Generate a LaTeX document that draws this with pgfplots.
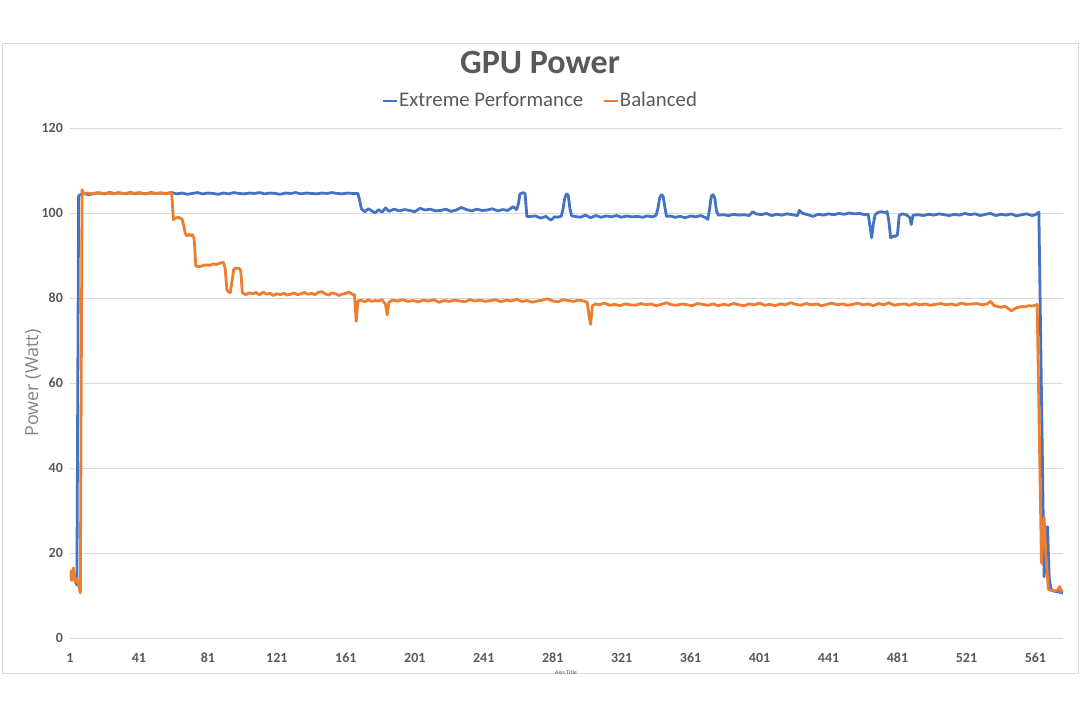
\documentclass[border=0pt]{standalone}
\usepackage{pgfplots}
\pgfplotsset{compat=1.18}
\usepackage{fontspec}
\setmainfont{Carlito}
\newfontfamily\labelfont{Open Sans}
\definecolor{xlblue}{HTML}{4472C4}
\definecolor{xlorange}{HTML}{ED7D31}
\definecolor{xltext}{HTML}{595959}
\definecolor{xlgrid}{HTML}{D9D9D9}
\begin{document}
\begin{tikzpicture}
  \path (0,0) rectangle (540pt,360pt);
  \draw[xlgrid, line width=0.5pt] (1pt,23.5pt) rectangle (539pt,338.5pt);
  \begin{axis}[
      at={(35pt,41pt)}, anchor=south west,
      scale only axis,
      width=496.5pt, height=255pt,
      xmin=1, xmax=577,
      ymin=0, ymax=120,
      xtick={1,41,...,561},
      ytick={0,20,...,120},
      major tick length=0pt,
      axis line style={draw=none},
      ymajorgrids=true,
      grid style={xlgrid, line width=0.5pt},
      /pgf/number format/assume math mode=true,
      ticklabel style={font=\fontsize{7}{8}\selectfont\bfseries, text=xltext},
      xticklabel style={yshift=-4pt},
      yticklabel style={xshift=0pt},
      legend style={at={(rel axis cs:0.473,1.053)}, anchor=center,
        draw=none, fill=none, legend columns=2,
        font=\fontsize{10.4}{12}\selectfont, text=xltext,
        nodes={inner xsep=0.5pt},
        /tikz/every even column/.append style={column sep=9pt}},
      legend image code/.code={\draw[#1, line width=1.4pt] (0pt,0pt) -- (7pt,0pt);},
      every axis plot/.append style={line width=1.4pt, line join=round},
    ]
    \addplot[xlblue, mark=none] coordinates {
      (1,15.5)(2,14)(3,15)(4,13.5)(5,12.5)(6,104)(7,104.3)(9,104.6)(12,104.3)(15,104.6)
      (18,104.7)(21,104.5)(24,104.8)(27,104.6)(30,104.7)(33,104.5)(36,104.8)(39,104.6)
      (42,104.7)(45,104.5)(48,104.8)(51,104.6)(54,104.7)(57,104.6)(60,104.8)(63,104.5)
      (66,104.7)(69,104.4)(72,104.6)(75,104.8)(78,104.5)(81,104.7)(84,104.6)(87,104.4)
      (90,104.7)(93,104.5)(96,104.8)(99,104.6)(102,104.5)(105,104.7)(108,104.6)(111,104.8)
      (114,104.5)(117,104.7)(120,104.6)(123,104.4)(126,104.7)(129,104.6)(132,104.8)
      (135,104.5)(138,104.7)(141,104.6)(144,104.5)(147,104.7)(150,104.6)(153,104.8)
      (156,104.6)(159,104.5)(162,104.7)(165,104.6)(168,104.6)(169,103)(170,101)(172,100.3)
      (174,101)(176,100.5)(178,100)(180,100.8)(182,100.2)(184,101.2)(186,100.4)(189,100.9)
      (192,100.5)(195,100.8)(198,100.6)(201,100.3)(204,101.1)(207,100.7)(210,100.9)
      (213,100.5)(216,100.6)(219,100.9)(222,100.4)(225,100.7)(228,101.3)(231,100.8)
      (234,100.5)(237,100.9)(240,100.6)(243,100.7)(246,101)(249,100.5)(252,100.8)
      (255,100.6)(258,101.5)(260,100.8)(261,102)(262,104.5)(264,104.8)(265,104.5)
      (266,99.2)(268,99.2)(271,99.3)(274,98.8)(277,99.2)(280,98.3)(282,99.1)(284,99)
      (286,99.3)(287,101)(288,103.5)(289,104.5)(290,104.2)(291,101)(292,99.3)(294,99.2)
      (297,99)(300,99.5)(303,98.9)(306,99.4)(309,99)(312,99.3)(315,99.1)(318,99.4)(321,99)
      (324,99.3)(327,99.1)(330,99.2)(333,99)(336,99.3)(339,99.1)(341,99.5)(342,101)
      (343,103.5)(344,104.3)(345,104)(346,101.5)(347,99.2)(349,99.3)(352,99)(355,99.2)
      (358,98.9)(361,99.3)(364,99.1)(367,99.4)(370,98.8)(371,98.5)(372,101)(373,104)
      (374,104.3)(375,103.5)(376,100.5)(377,99.5)(380,99.6)(383,99.4)(386,99.7)(389,99.5)
      (392,99.6)(395,99.4)(397,100.3)(399,99.8)(402,99.6)(405,99.9)(408,99.4)(411,99.7)
      (414,99.5)(417,99.8)(420,99.6)(423,99.4)(424,100.6)(426,99.9)(429,99.6)(432,99.2)
      (435,99.7)(438,99.5)(441,99.8)(444,99.6)(447,99.9)(450,99.7)(453,100)(456,99.8)
      (459,99.9)(462,99.6)(464,99.7)(465,97)(466,94.2)(467,97.5)(468,99.6)(470,100.2)
      (472,100.3)(474,100.1)(475,100.3)(476,98)(477,94.2)(479,94.6)(480,94.5)(481,95)
      (482,99.5)(484,99.8)(486,99.6)(488,99)(489,97.3)(490,99.5)(493,99.6)(496,99.4)
      (499,99.7)(502,99.5)(505,99.8)(508,99.6)(511,99.4)(514,99.7)(517,99.5)(520,99.9)
      (523,99.6)(526,99.8)(529,99.4)(532,99.7)(535,99.9)(538,99.4)(541,99.7)(544,99.5)
      (547,99.8)(550,99.3)(553,99.6)(556,99.8)(559,99.4)(561,99.6)(563,100.2)(566,14.4)
      (567,20)(568,26.2)(569,14)(570,11.5)(572,11)(574,10.9)(576,10.7)(577,10.5)
    };
    \addlegendentry{Extreme Performance}
    \addplot[xlorange, mark=none] coordinates {
      (1,16)(2,13.5)(3,16.5)(4,13.2)(5,14)(6,12.5)(7,10.6)(8,105.5)(9,104.5)(11,104.7)
      (14,104.5)(17,104.8)(20,104.6)(23,104.7)(26,104.5)(29,104.8)(32,104.6)(35,104.7)
      (38,104.6)(41,104.8)(44,104.5)(47,104.7)(50,104.6)(53,104.7)(56,104.6)(59,104.7)
      (60,104.6)(61,98.4)(62,98.8)(64,99)(65,98.7)(66,98.6)(67,97)(68,95)(69,94.6)(70,95)
      (71,94.7)(72,94.9)(73,94)(74,87.5)(76,87.4)(78,87.6)(80,87.8)(82,87.7)(84,88)
      (86,87.9)(88,88.2)(90,88.4)(91,87)(92,82)(93,81.4)(94,81.3)(95,84)(96,86.8)(97,87)
      (99,87)(100,86.5)(101,81.2)(103,80.8)(105,81.2)(107,81)(109,81.3)(111,80.7)
      (113,81.4)(115,80.9)(117,81.1)(119,80.6)(121,81)(123,80.8)(125,81.1)(127,80.7)
      (129,80.9)(131,81.2)(133,80.8)(135,81)(137,81.3)(139,80.9)(141,81.1)(143,80.8)
      (145,81.3)(147,81.5)(149,81)(151,80.7)(153,81.2)(155,81)(157,80.6)(159,80.9)
      (161,81.1)(163,81.4)(165,80.8)(166,80.8)(167,74.5)(168,79.3)(170,79.5)(172,79.1)
      (174,79.6)(176,79.2)(178,79.4)(180,79.3)(182,79.6)(184,78.5)(185,76)(186,79)
      (188,79.5)(191,79.3)(194,79.6)(197,79.2)(200,79.4)(203,79.1)(206,79.5)(209,79.3)
      (212,79.6)(215,79)(218,79.4)(221,79.2)(224,79.5)(227,79.3)(230,79.1)(233,79.6)
      (236,79.3)(239,79.5)(242,79.2)(245,79.4)(248,79.6)(251,79.1)(254,79.5)(257,79.3)
      (260,79.7)(263,79.2)(266,79.4)(269,79)(272,79.3)(275,79.5)(278,79.8)(281,79.3)
      (284,79.1)(287,79.6)(290,79.4)(293,79.2)(296,79.5)(299,79.3)(301,79)(302,76)
      (303,73.8)(304,78.2)(306,78.6)(308,78.4)(311,78.8)(314,78.3)(317,78.5)(320,78.2)
      (323,78.6)(326,78.4)(329,78.3)(332,78.7)(335,78.4)(338,78.6)(341,78.2)(344,78.5)
      (347,78.9)(350,78.4)(353,78.3)(356,78.6)(359,78.4)(362,78.2)(365,78.7)(368,78.5)
      (371,78.3)(374,78.6)(377,78.2)(380,78.5)(383,78.3)(386,78.7)(389,78.4)(392,78.2)
      (395,78.6)(398,78.4)(401,78.8)(404,78.3)(407,78.5)(410,78.2)(413,78.6)(416,78.4)
      (419,78.9)(422,78.5)(425,78.3)(428,78.7)(431,78.4)(434,78.6)(437,78.2)(440,78.5)
      (443,78.8)(446,78.4)(449,78.6)(452,78.3)(455,78.5)(458,78.8)(461,78.4)(464,78.6)
      (467,78.2)(470,78.7)(473,78.4)(476,78.9)(479,78.3)(482,78.5)(485,78.6)(488,78.3)
      (491,78.7)(494,78.4)(497,78.6)(500,78.3)(503,78.5)(506,78.7)(509,78.4)(512,78.6)
      (515,78.3)(518,78.8)(521,78.5)(524,78.6)(527,78.7)(530,78.4)(533,78.6)(535,79.2)
      (537,78.2)(539,78)(541,77.8)(543,78.1)(545,77.6)(547,77)(549,77.5)(551,77.8)
      (553,78)(555,77.9)(557,78.2)(559,78.1)(561,78.3)(562,78.5)(564.5,17.6)(566,28.5)
      (567,20)(568.5,11.5)(570,11.2)(572,11)(574,11.3)(575,12.1)(576,11)(577,11.2)
    };
    \addlegendentry{Balanced}
  \end{axis}
  \node[font=\fontsize{17}{20}\selectfont\bfseries, text=xltext] at (270pt,329pt) {GPU Power};
  \node[font=\labelfont\fontsize{9}{11}\selectfont, text=xltext!75, rotate=90] at (16.5pt,168.5pt) {Power (Watt)};
  \node[font=\fontsize{3}{4}\selectfont, text=xltext] at (283pt,24pt) {Axis Title};
\end{tikzpicture}
\end{document}
